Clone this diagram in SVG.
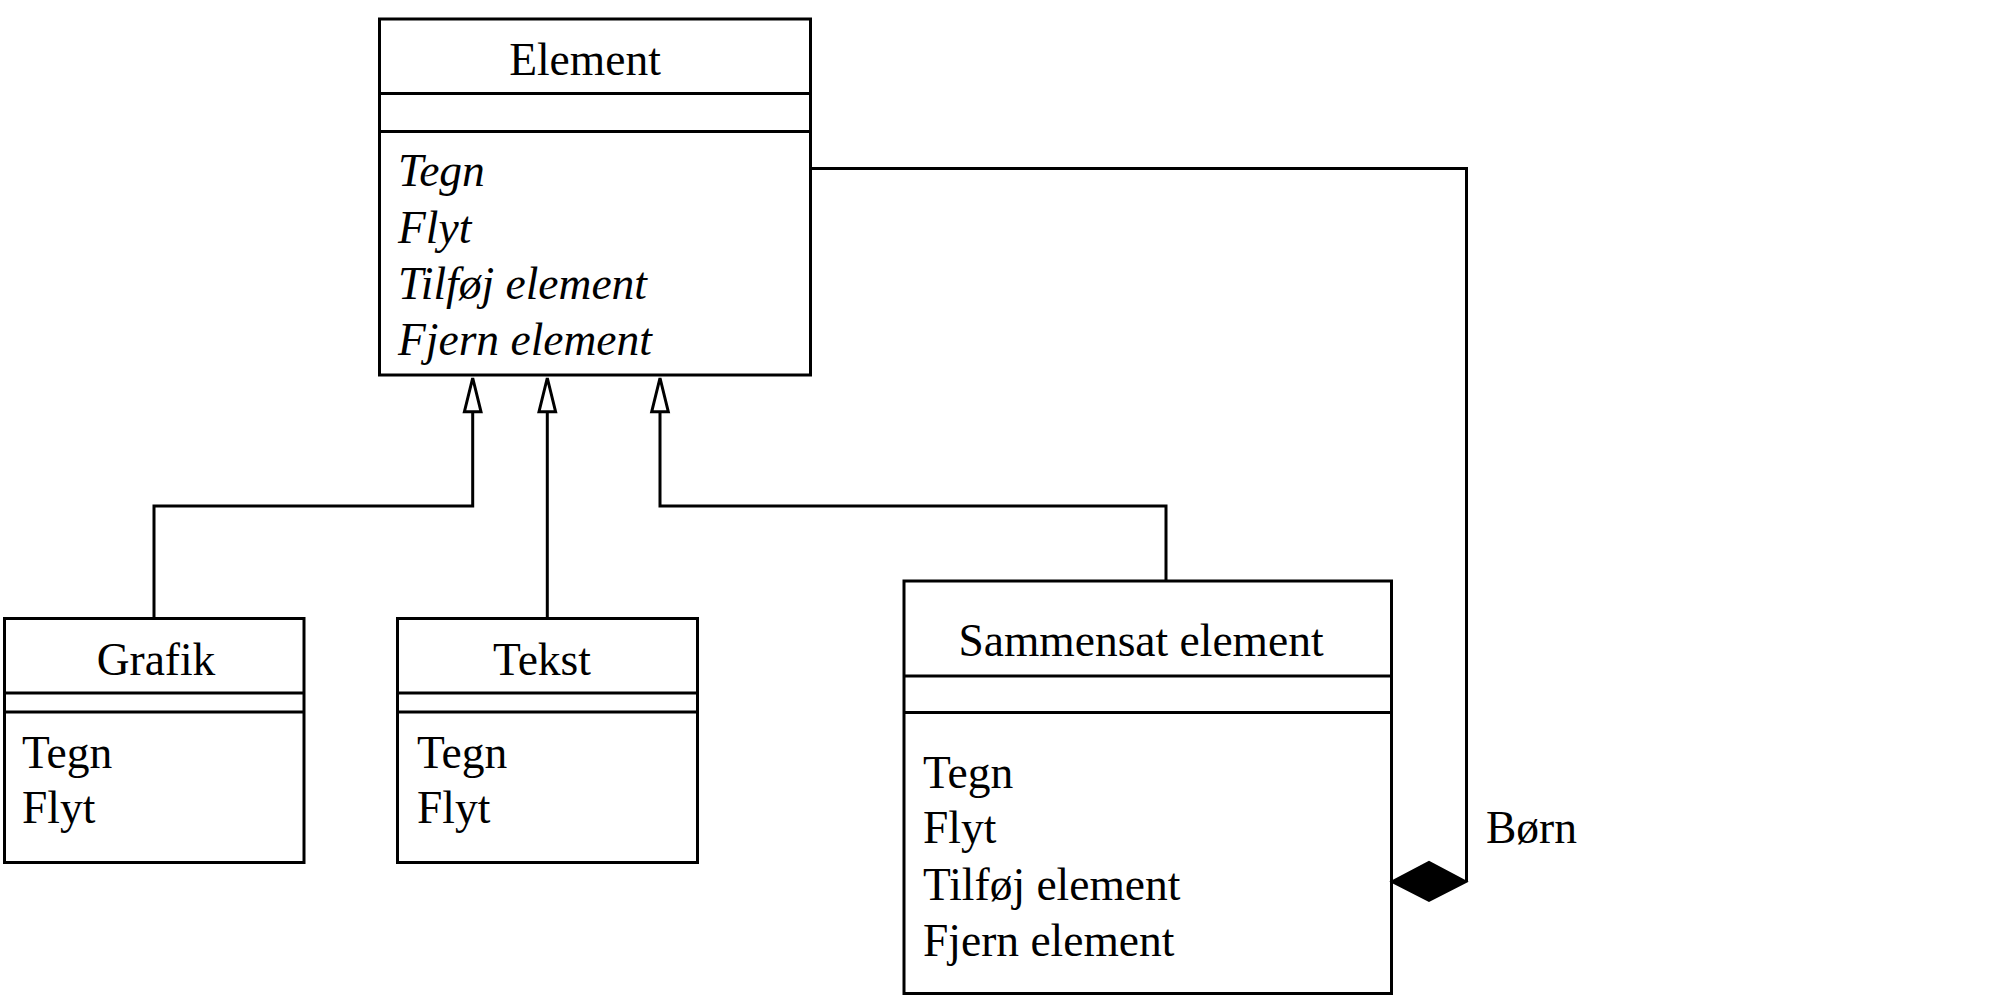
<svg xmlns="http://www.w3.org/2000/svg" width="1999" height="1000" viewBox="0 0 1999 1000">
<style>
.box{fill:none;stroke:#000;stroke-width:3}
.ln{fill:none;stroke:#000;stroke-width:3}
.t{font-family:"Liberation Serif","Times New Roman",serif;font-size:45.5px;fill:#000}
.c{text-anchor:middle}
.i{font-style:italic}
.tri{fill:#fff;stroke:#000;stroke-width:3}
</style>
<rect width="1999" height="1000" fill="#fff"/>
<g id="connectors">
<path class="ln" d="M154,618 V506 H472.7 V412"/>
<path class="ln" d="M547.3,618 V412"/>
<path class="ln" d="M1166,581 V506 H660 V412"/>
<path class="tri" d="M472.7,378 L481,411.7 L464.4,411.7 Z"/>
<path class="tri" d="M547.3,378 L555.6,411.7 L539,411.7 Z"/>
<path class="tri" d="M660,378 L668.3,411.7 L651.7,411.7 Z"/>
<path class="ln" d="M810.7,168.5 H1466.5 V881.7"/>
<path d="M1391.5,881.7 L1429,862 L1466.5,881.7 L1429,901 Z" fill="#000" stroke="#000" stroke-width="2"/>
<text class="t" x="1486" y="843">Børn</text>
</g>
<g id="element">
<rect class="box" x="379.5" y="19" width="431" height="356"/>
<line class="ln" x1="379.5" y1="93.5" x2="810.5" y2="93.5"/>
<line class="ln" x1="379.5" y1="131.5" x2="810.5" y2="131.5"/>
<text class="t c" x="585" y="75">Element</text>
<text class="t i" x="398" y="186">Tegn</text>
<text class="t i" x="398" y="243">Flyt</text>
<text class="t i" x="398" y="299">Tilføj element</text>
<text class="t i" x="398" y="355">Fjern element</text>
</g>
<g id="grafik">
<rect class="box" x="4.5" y="618.5" width="299.5" height="244"/>
<line class="ln" x1="4.5" y1="693" x2="304" y2="693"/>
<line class="ln" x1="4.5" y1="712" x2="304" y2="712"/>
<text class="t c" x="156" y="675">Grafik</text>
<text class="t" x="22" y="768">Tegn</text>
<text class="t" x="22" y="823">Flyt</text>
</g>
<g id="tekst">
<rect class="box" x="397.5" y="618.5" width="300" height="244"/>
<line class="ln" x1="397.5" y1="693" x2="697.5" y2="693"/>
<line class="ln" x1="397.5" y1="712" x2="697.5" y2="712"/>
<text class="t c" x="542" y="675">Tekst</text>
<text class="t" x="417" y="768">Tegn</text>
<text class="t" x="417" y="823">Flyt</text>
</g>
<g id="sammensat">
<rect class="box" x="904" y="581" width="487.5" height="412.5"/>
<line class="ln" x1="904" y1="676" x2="1391.5" y2="676"/>
<line class="ln" x1="904" y1="712.5" x2="1391.5" y2="712.5"/>
<text class="t c" x="1141" y="656">Sammensat element</text>
<text class="t" x="923" y="788">Tegn</text>
<text class="t" x="923" y="843">Flyt</text>
<text class="t" x="923" y="900">Tilføj element</text>
<text class="t" x="923" y="956">Fjern element</text>
</g>
</svg>
